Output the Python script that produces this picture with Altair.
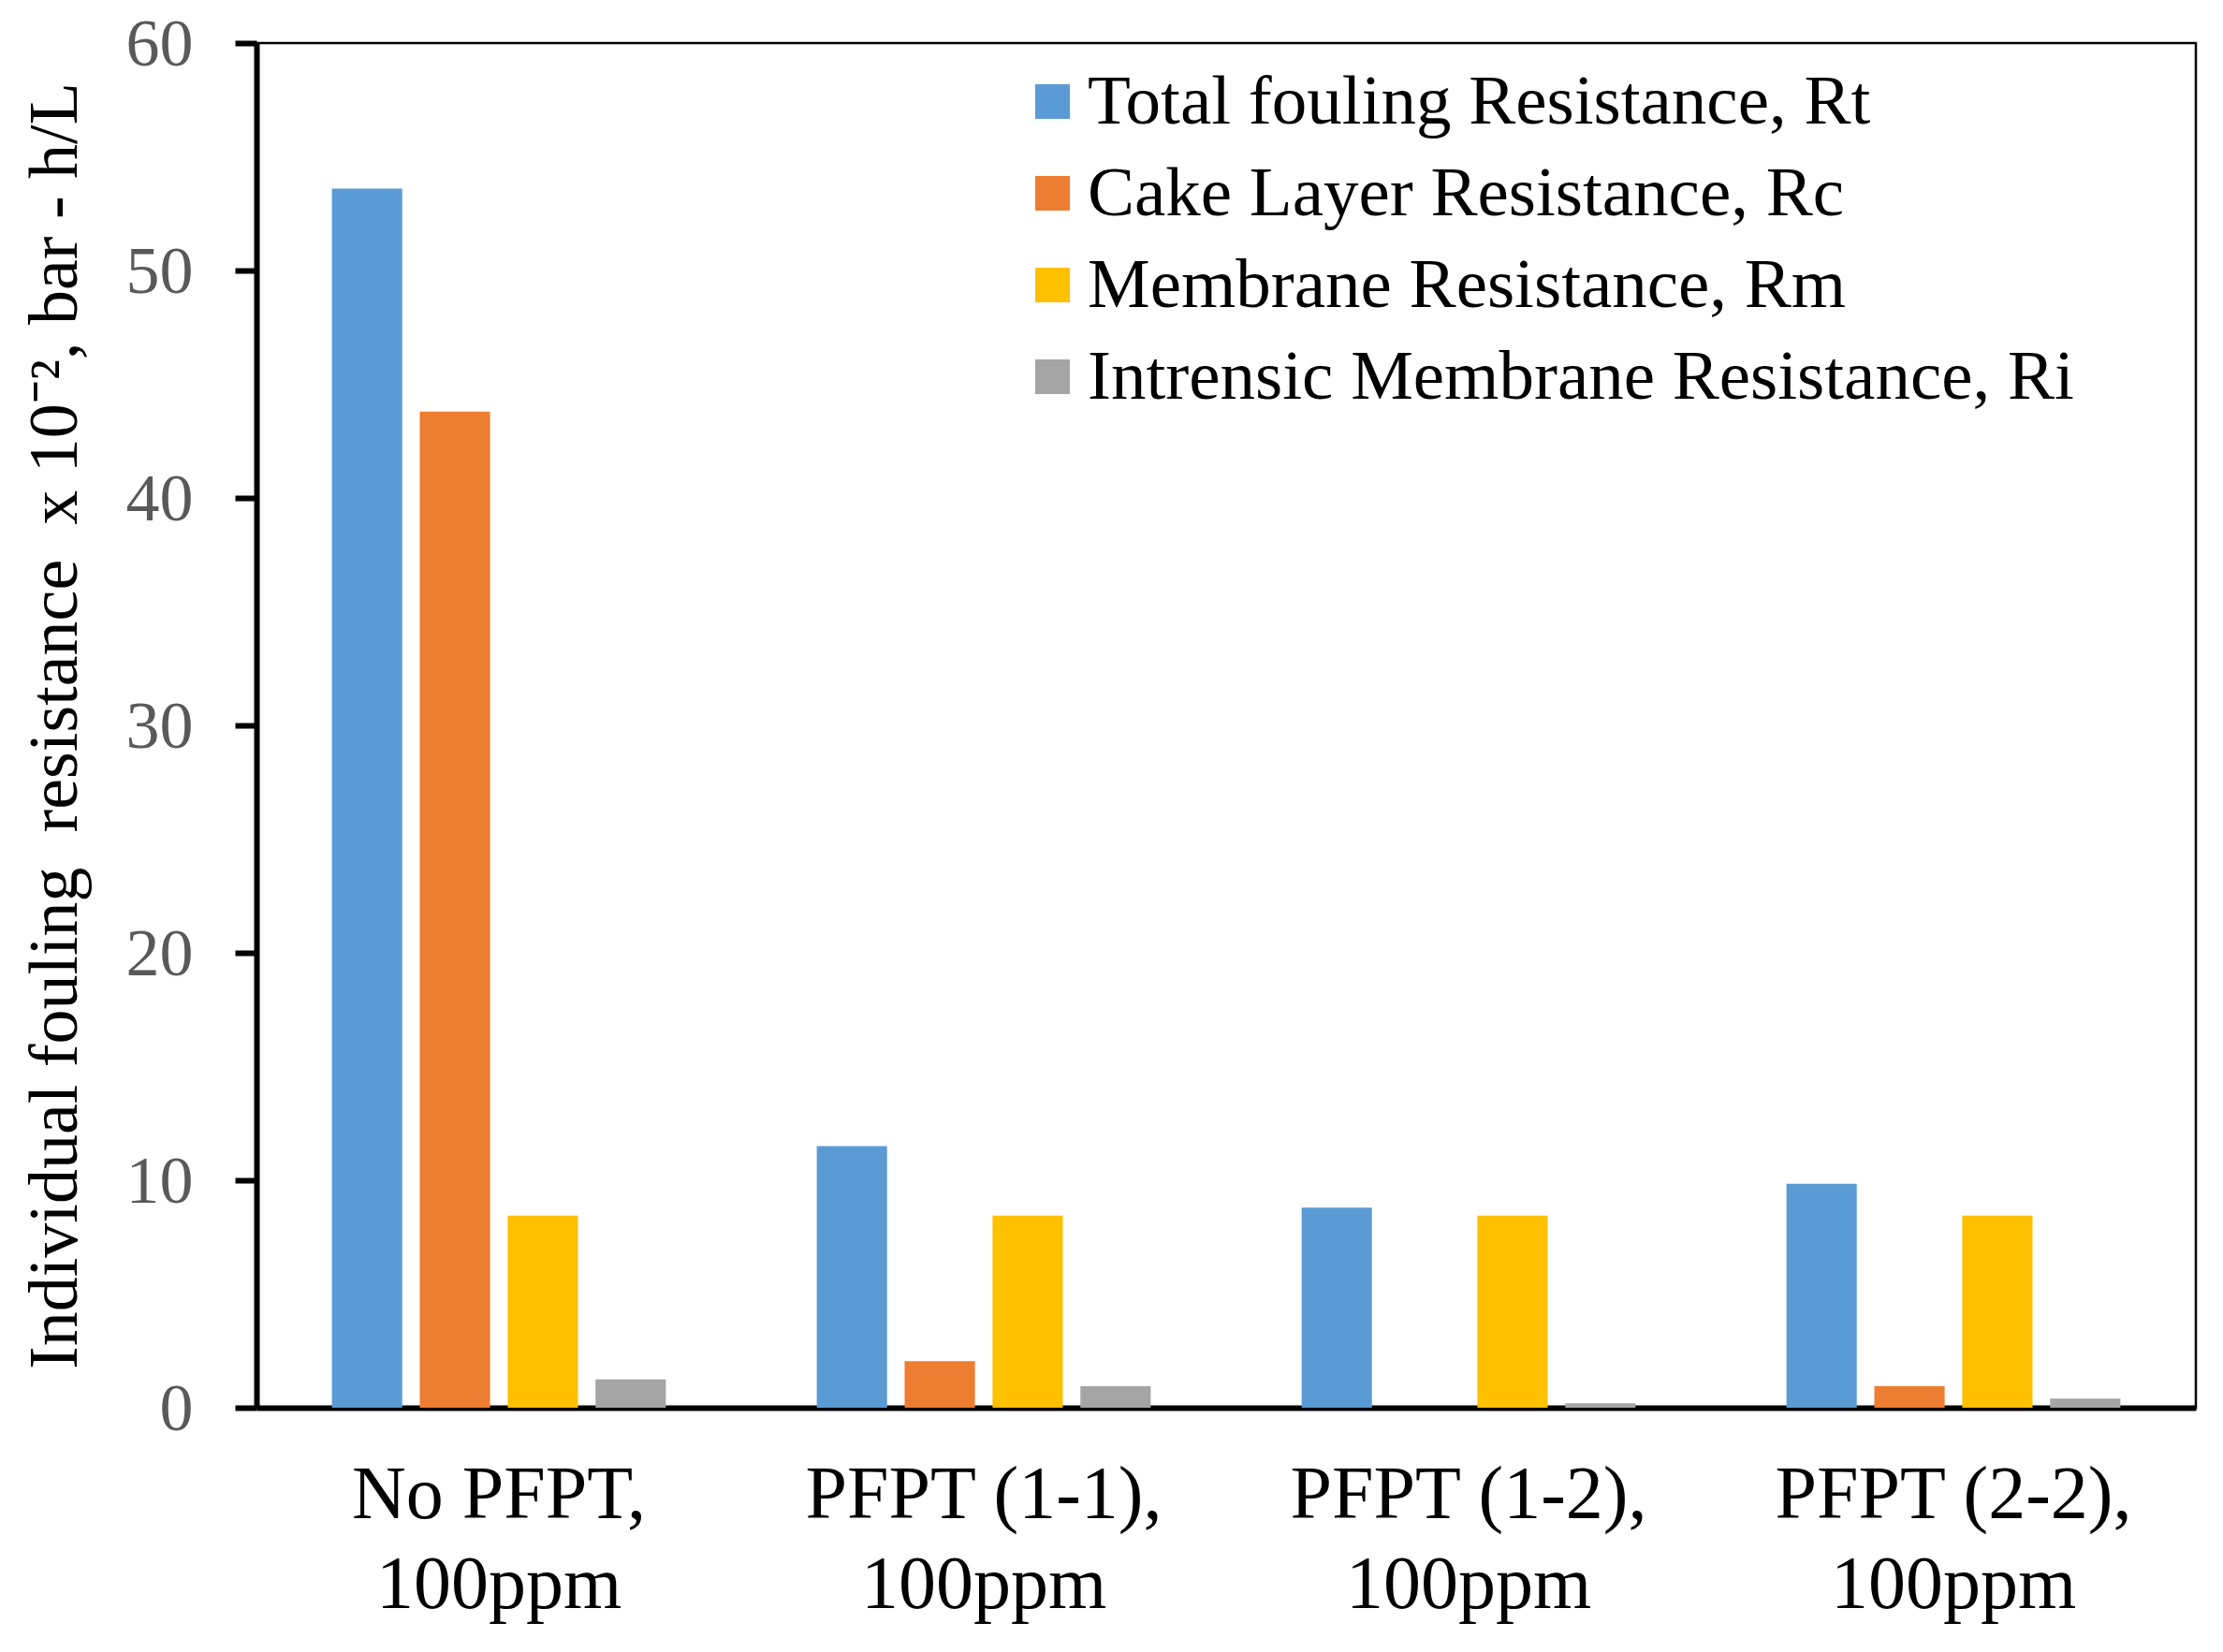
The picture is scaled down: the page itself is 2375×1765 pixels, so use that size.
import altair as alt
import pandas as pd

categories = ["No PFPT, 100ppm", "PFPT (1-1), 100ppm", "PFPT (1-2), 100ppm", "PFPT (2-2), 100ppm"]
series = ["Total fouling Resistance, Rt", "Cake Layer Resistance, Rc",
          "Membrane Resistance, Rm", "Intrensic Membrane Resistance, Ri"]
rt = [53.6, 11.5, 8.8, 9.85]
rc = [43.8, 2.05, 0.0, 0.95]
rm = [8.45, 8.45, 8.45, 8.45]
ri = [1.25, 0.95, 0.2, 0.4]
colors = ["#5B9BD5", "#ED7D31", "#FFC000", "#A5A5A5"]

rows = []
for s, vals in zip(series, [rt, rc, rm, ri]):
    for c, v in zip(categories, vals):
        rows.append({"cat": c, "series": s, "value": v})
df = pd.DataFrame(rows)

FONT = "Liberation Serif"

chart = alt.Chart(df).mark_bar().encode(
    x=alt.X("cat:N", sort=categories,
            scale=alt.Scale(paddingInner=0.275, paddingOuter=0.1375),
            axis=alt.Axis(title=None, labelAngle=0, ticks=False, domainWidth=6,
                          domainColor="black", labelFont=FONT, labelFontSize=80,
                          labelColor="black", labelPadding=54, labelLineHeight=96,
                          labelBaseline="top", labelLimit=0,
                          labelExpr="[split(datum.label, ', ')[0] + ',', split(datum.label, ', ')[1]]")),
    xOffset=alt.XOffset("series:N", sort=series,
                        scale=alt.Scale(paddingInner=0.2, paddingOuter=0.1)),
    y=alt.Y("value:Q", scale=alt.Scale(domain=[0, 60], nice=False),
            axis=alt.Axis(values=[0, 10, 20, 30, 40, 50, 60], grid=False,
                          title="Individual fouling\u00a0 resistance\u00a0 x 10\u207b\u00b2, bar - h/L",
                          titleFont=FONT, titleFontSize=74, titleFontWeight="normal",
                          titleColor="black", titlePadding=37,
                          labelFont=FONT, labelFontSize=72, labelColor="#595959",
                          labelPadding=45, labelOffset=1, tickSize=23, tickWidth=6,
                          tickColor="black", domainWidth=6, domainColor="black")),
    color=alt.Color("series:N", sort=series,
                    scale=alt.Scale(domain=series, range=colors),
                    legend=alt.Legend(title=None, orient="none", legendX=813, legendY=25,
                                      symbolType="square", symbolSize=1370,
                                      symbolStrokeWidth=0, labelFont=FONT,
                                      labelFontSize=75, labelColor="black",
                                      labelLimit=0, rowPadding=22, labelOffset=0,
                                      padding=0)),
).properties(
    width=2072, height=1458,
    autosize=alt.AutoSizeParams(type="none"),
    padding={"left": 266, "top": 38, "right": 21, "bottom": 240},
).configure_view(stroke="black", strokeWidth=2.5)

chart.save("out.html", embed_options={"renderer": "svg", "actions": False})
